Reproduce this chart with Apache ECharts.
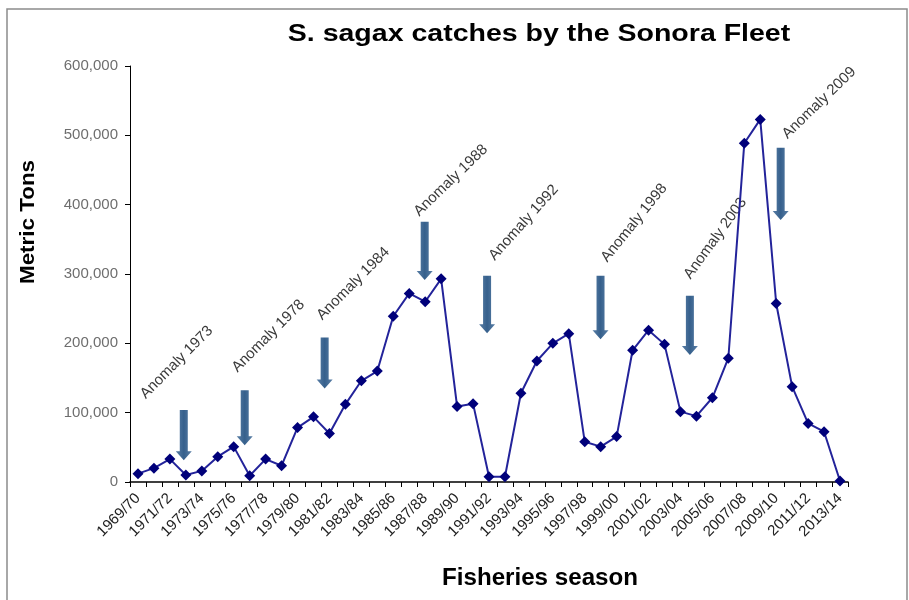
<!DOCTYPE html>
<html>
<head>
<meta charset="utf-8">
<script src="https://cdn.jsdelivr.net/npm/echarts@6/dist/echarts.min.js"></script>
<style>
  html, body { margin: 0; padding: 0; background: #ffffff; }
  #chart { width: 909px; height: 600px; }
</style>
</head>
<body>
<div id="chart"></div>
<script>
// Fishing seasons (one category per season)
const seasons = [
  '1969/70', '1970/71', '1971/72', '1972/73', '1973/74', '1974/75', '1975/76', '1976/77',
  '1977/78', '1978/79', '1979/80', '1980/81', '1981/82', '1982/83', '1983/84', '1984/85',
  '1985/86', '1986/87', '1987/88', '1988/89', '1989/90', '1990/91', '1991/92', '1992/93',
  '1993/94', '1994/95', '1995/96', '1996/97', '1997/98', '1998/99', '1999/00', '2000/01',
  '2001/02', '2002/03', '2003/04', '2004/05', '2005/06', '2006/07', '2007/08', '2008/09',
  '2009/10', '2010/11', '2011/12', '2012/13', '2013/14'
];

// Sardine (S. sagax) catch per season, metric tons
const catches = [
  12000, 20000, 33000, 10000, 16000, 36500, 51000, 9000,
  33000, 23500, 78500, 94000, 70000, 112000, 146000, 160000,
  239000, 272000, 260000, 293000, 109000, 113000, 7500, 7500,
  128000, 174500, 200000, 214000, 58000, 51000, 65500, 190000,
  219000, 198500, 101500, 95000, 121500, 178500, 488500, 523000,
  257500, 137500, 84500, 72500, 1500
];

// Y axis ticks
const yTicks = [0, 100000, 200000, 300000, 400000, 500000, 600000];

// Anomaly annotations: season position (category index), arrow start/end in tons,
// label anchor (category index, tons) and label tilt in degrees
const anomalyNames = ['Anomaly 1973', 'Anomaly 1978', 'Anomaly 1984', 'Anomaly 1988',
                      'Anomaly 1992', 'Anomaly 1998', 'Anomaly 2003', 'Anomaly 2009'];
const arrowAt   = [2.87, 6.69, 11.7, 17.97, 21.88, 28.99, 34.59, 40.28];
const arrowFrom = [104000, 132500, 208500, 375500, 297500, 297500, 268500, 482000];
const arrowTo   = [31500, 53000, 135000, 291500, 214500, 206000, 183000, 378000];
const labelAt   = [0.63, 6.38, 11.7, 17.77, 22.51, 29.57, 34.8, 40.86];
const labelFrom = [116000, 154000, 229500, 379000, 315500, 313000, 289000, 491000];
const labelTilt = [45, 45, 45, 44, 48, 51, 54, 44];

const FONT = '"Liberation Sans", Arial, sans-serif';

const chart = echarts.init(document.getElementById('chart'), null, { renderer: 'canvas' });

const arrowData = arrowAt.map((x, i) => [x, arrowFrom[i], arrowTo[i]]);
const labelData = labelAt.map((x, i) => [x, labelFrom[i], i]);

chart.setOption({
  animation: false,
  backgroundColor: '#ffffff',
  grid: { left: 130, right: 61, top: 66, bottom: 118, containLabel: false },
  graphic: [
    {
      type: 'rect', silent: true, z: -10,
      shape: { x: 7, y: 9, width: 900, height: 640 },
      style: { fill: 'none', stroke: '#8c8c8c', lineWidth: 1.5 }
    },
    {
      type: 'text', silent: true,
      x: 539, y: 35, scaleX: 1.24,
      style: {
        text: 'S. sagax catches by the Sonora Fleet',
        font: 'bold 23px ' + FONT, fill: '#000000',
        align: 'center', verticalAlign: 'middle'
      }
    },
    {
      type: 'text', silent: true,
      x: 28, y: 222, rotation: Math.PI / 2, scaleX: 1.12,
      style: {
        text: 'Metric Tons',
        font: 'bold 20px ' + FONT, fill: '#000000',
        align: 'center', verticalAlign: 'middle'
      }
    },
    {
      type: 'text', silent: true,
      x: 540, y: 579, scaleX: 1.05,
      style: {
        text: 'Fisheries season',
        font: 'bold 23px ' + FONT, fill: '#000000',
        align: 'center', verticalAlign: 'middle'
      }
    }
  ],
  xAxis: [
    {
      type: 'category',
      data: seasons,
      boundaryGap: true,
      axisLine: { lineStyle: { color: '#000000', width: 1.5 } },
      axisTick: { show: true, interval: 0, length: 5, lineStyle: { color: '#000000' } },
      axisLabel: {
        interval: 1, rotate: 45, margin: 14,
        fontFamily: FONT, fontSize: 15, color: '#222222'
      },
      splitLine: { show: false }
    },
    {
      // numeric twin of the category axis for placing the annotations between seasons
      type: 'value', show: false,
      min: -0.5, max: seasons.length - 0.5
    }
  ],
  yAxis: {
    type: 'value',
    min: yTicks[0], max: yTicks[yTicks.length - 1], interval: yTicks[1] - yTicks[0],
    axisLine: { show: true, onZero: false, lineStyle: { color: '#000000', width: 1 } },
    axisTick: { show: true, length: 5, lineStyle: { color: '#000000' } },
    axisLabel: {
      margin: 12, fontFamily: FONT, fontSize: 15, color: '#6e6e6e',
      formatter: v => v.toLocaleString('en-US')
    },
    splitLine: { show: false }
  },
  series: [
    {
      name: 'arrows',
      type: 'custom',
      xAxisIndex: 1,
      z: 1,
      data: arrowData,
      renderItem: (params, api) => {
        const x = api.value(0);
        const top = api.coord([x, api.value(1)]);
        const tip = api.coord([x, api.value(2)]);
        const cx = top[0];
        const sw = 4, hw = 8, hl = 9;
        const neck = tip[1] - hl;
        return {
          type: 'polygon',
          shape: {
            points: [
              [cx - sw, top[1]], [cx + sw, top[1]], [cx + sw, neck], [cx + hw, neck],
              [cx, tip[1]], [cx - hw, neck], [cx - sw, neck]
            ]
          },
          style: {
            fill: new echarts.graphic.LinearGradient(0, 0, 1, 0, [
              { offset: 0, color: '#5a7fa6' },
              { offset: 0.5, color: '#36608c' },
              { offset: 1, color: '#5a7fa6' }
            ])
          }
        };
      }
    },
    {
      name: 'anomaly labels',
      type: 'custom',
      xAxisIndex: 1,
      z: 1,
      data: labelData,
      renderItem: (params, api) => {
        const i = api.value(2);
        const p = api.coord([api.value(0), api.value(1)]);
        return {
          type: 'text',
          x: p[0], y: p[1],
          rotation: labelTilt[i] * Math.PI / 180,
          style: {
            text: anomalyNames[i],
            font: '15px ' + FONT, fill: '#3a3a3a',
            align: 'left', verticalAlign: 'bottom'
          }
        };
      }
    },
    {
      name: 'Catch',
      type: 'line',
      z: 3,
      data: catches,
      symbol: 'diamond',
      symbolSize: 11,
      showAllSymbol: true,
      lineStyle: { color: '#23239a', width: 2 },
      itemStyle: { color: '#00007a', borderColor: '#00007a', borderWidth: 0 }
    }
  ]
});
</script>
</body>
</html>
